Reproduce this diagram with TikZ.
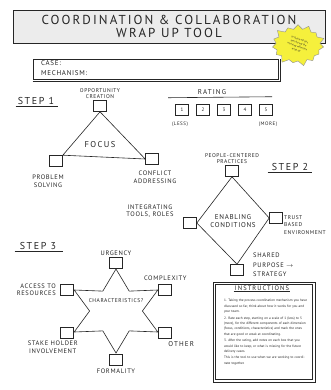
\documentclass[tikz,border=0pt]{standalone}
\usepackage{fontspec}
\setmainfont{PT Sans}
\newfontfamily\handfont{PT Sans}[LetterSpace=10]
\newfontfamily\widefont{PT Sans}[LetterSpace=16]
\usepackage{tikz}
\usetikzlibrary{shapes.geometric,shapes.symbols}

\definecolor{ink}{HTML}{262626}
\definecolor{burstY}{RGB}{245,240,60}
\tikzset{
  cbox/.style={draw=ink, semithick, minimum width=13pt, minimum height=11pt, inner sep=0pt},
  lbl/.style={text=ink, font=\handfont\fontsize{6.5}{7.5}\selectfont, align=center, inner sep=1pt},
  steplbl/.style={text=ink, font=\widefont\fontsize{10}{10}\selectfont, inner sep=1pt},
}

\begin{document}
\begin{tikzpicture}[x=1pt,y=-1pt]
  \useasboundingbox[fill=white] (0,0) rectangle (330,390);
  % header
  \node[draw=ink, semithick, fill=gray!15, minimum width=312pt, minimum height=33pt, align=center,
        text=ink, font=\widefont\fontsize{13}{13}\selectfont] (title) at (169,26.5)
        {COORDINATION \& COLLABORATION\\WRAP UP TOOL};
  \node[starburst, starburst points=15, starburst point height=6pt, fill=burstY, draw=ink!50,
        minimum width=56pt, minimum height=44pt] (burst) at (298,45) {};
  \node[rotate=-20, align=center, text=ink, inner sep=0pt, font=\fontsize{2.6}{3.6}\selectfont] (bursttxt) at (burst.center)
        {to finish off this\\tool during the\\morning reflection\\wrap up};
  \node[draw=ink, semithick, minimum width=245pt, minimum height=20pt] (case) at (155.5,69) {};
  \draw[ink, semithick] ([yshift=-2pt]case.south west) -- ([shift={(2,2)}]case.south east) -- ([xshift=2pt]case.north east);
  \node[lbl, anchor=west, font=\handfont\fontsize{7}{7}\selectfont] (caselbl) at (40,63) {CASE:};
  \node[lbl, anchor=west, font=\handfont\fontsize{7}{7}\selectfont] (mechlbl) at (40,73) {MECHANISM:};

  % step 1
  \node[steplbl] (s1) at (36,101) {STEP 1};
  \draw[ink, semithick] ([xshift=-1pt]s1.south west) -- ([xshift=3pt]s1.south east);
  \node[cbox] (opp) at (100,106) {};
  \node[cbox] (prob) at (56,161) {};
  \node[cbox] (conf) at (152,159) {};
  \draw[ink, semithick] (opp.south) -- (prob.north east) -- (conf.west) -- cycle;
  \node[lbl, above, font=\handfont\fontsize{5.5}{6}\selectfont] at (opp.north) {OPPORTUNITY\\CREATION};
  \node[lbl, font=\widefont\fontsize{8.5}{8.5}\selectfont] at (100,145) {FOCUS};
  \node[lbl] at (48,181) {PROBLEM\\SOLVING};
  \node[lbl] at (155,177) {CONFLICT\\ADDRESSING};

  % rating
  \node[lbl, font=\widefont\fontsize{7}{7}\selectfont] (rate) at (212,92) {RATING};
  \draw[ink, semithick] ([xshift=-44pt,yshift=-2pt]rate.south) -- ([xshift=60pt,yshift=-1pt]rate.south);
  \foreach \x in {1,...,5}
    \node[cbox, font=\fontsize{5}{5}\selectfont, text=ink] (r\x) at (161+21*\x,110) {\x};
  \node[lbl, font=\handfont\fontsize{5}{5}\selectfont] at (180,124) {(LESS)};
  \node[lbl, font=\handfont\fontsize{5}{5}\selectfont] at (268,124) {(MORE)};

  % step 2
  \node[steplbl] (s2) at (290,167) {STEP 2};
  \draw[ink, semithick] ([xshift=-3pt]s2.south west) -- ([xshift=3pt]s2.south east);
  \node[cbox] (ppl) at (232,171) {};
  \node[cbox] (integ) at (190,223) {};
  \node[cbox] (trust) at (276,218) {};
  \node[cbox] (shared) at (237,270) {};
  \draw[ink, semithick] (ppl.south) -- (integ.east) -- (shared.north) -- (trust.west) -- cycle;
  \node[lbl, above, font=\handfont\fontsize{5.5}{6.5}\selectfont] at (ppl.north) {PEOPLE-CENTERED\\PRACTICES};
  \node[lbl, font=\handfont\fontsize{7}{8}\selectfont] at (233,221) {ENABLING\\CONDITIONS};
  \node[lbl] at (150,211) {INTEGRATING\\TOOLS, ROLES};
  \node[lbl, align=left, anchor=west, font=\handfont\fontsize{5.5}{7.5}\selectfont] at (283,225) {TRUST\\BASED\\ENVIRONMENT};
  \node[lbl, align=left, anchor=west, font=\handfont\fontsize{6.5}{9.5}\selectfont] at (252,265) {SHARED\\PURPOSE $\rightarrow$\\STRATEGY};

  % step 3
  \node[steplbl] (s3) at (38,246) {STEP 3};
  \draw[ink, semithick] ([xshift=-4pt]s3.south west) -- ([xshift=6pt]s3.south east);
  \node[star, star points=6, star point ratio=1.83, minimum size=84pt, draw=ink, semithick, xscale=1.15] (chr) at (116,311) {};
  \node[lbl, font=\handfont\fontsize{5.5}{6}\selectfont] at (116,301) {CHARACTERISTICS?};
  \node[cbox, anchor=south] (urg) at (chr.outer point 1) {};
  \node[cbox, anchor=east] (acc) at (chr.outer point 2) {};
  \node[cbox, anchor=east] (stake) at (chr.outer point 3) {};
  \node[cbox, anchor=north] (form) at (chr.outer point 4) {};
  \node[cbox, anchor=west] (other) at (chr.outer point 5) {};
  \node[cbox, anchor=west] (cpx) at (chr.outer point 6) {};
  \node[lbl, above] at (urg.north) {URGENCY};
  \node[lbl, above=2pt] at (cpx.north) {COMPLEXITY};
  \node[lbl, align=right, left=3pt] at (acc.west) {ACCESS TO\\RESOURCES};
  \node[lbl, anchor=north, xshift=-14pt, yshift=-2pt] at (stake.south) {STAKE HOLDER\\INVOLVEMENT};
  \node[lbl, anchor=north west, xshift=2pt, yshift=-2pt, font=\widefont\fontsize{7}{7}\selectfont] at (other.south) {OTHER};
  \node[lbl, below=2pt] at (form.south) {FORMALITY};

  % instructions
  \node[draw=ink, thick, minimum width=102pt, minimum height=100pt] (instr) at (264,332) {};
  \node[draw=ink, minimum width=97pt, minimum height=95pt] (instrin) at (264,332) {};
  \node[lbl, font=\widefont\fontsize{6.5}{7}\selectfont] (instrhd) at (262,288) {INSTRUCTIONS};
  \draw[ink] (instrhd.south west) -- (instrhd.south east);
  \node[text=ink, text width=84pt, align=left, font=\fontsize{3.4}{5.4}\selectfont, anchor=north] (instrtxt) at (266,296)
    {1. Taking the process coordination mechanism you have discussed so far, think about how it works for you and your team.\\[1pt]
     2. Rate each step, starting on a scale of 1 (less) to 5 (more), for the different components of each dimension (focus, conditions, characteristics) and mark the ones that are good or weak at coordinating.\\[1pt]
     3. After the rating, add notes on each box that you would like to keep, or what is missing for the future delivery cases.\\[1pt]
     This is the tool to use when we are working to coordinate together.};
\end{tikzpicture}
\end{document}
